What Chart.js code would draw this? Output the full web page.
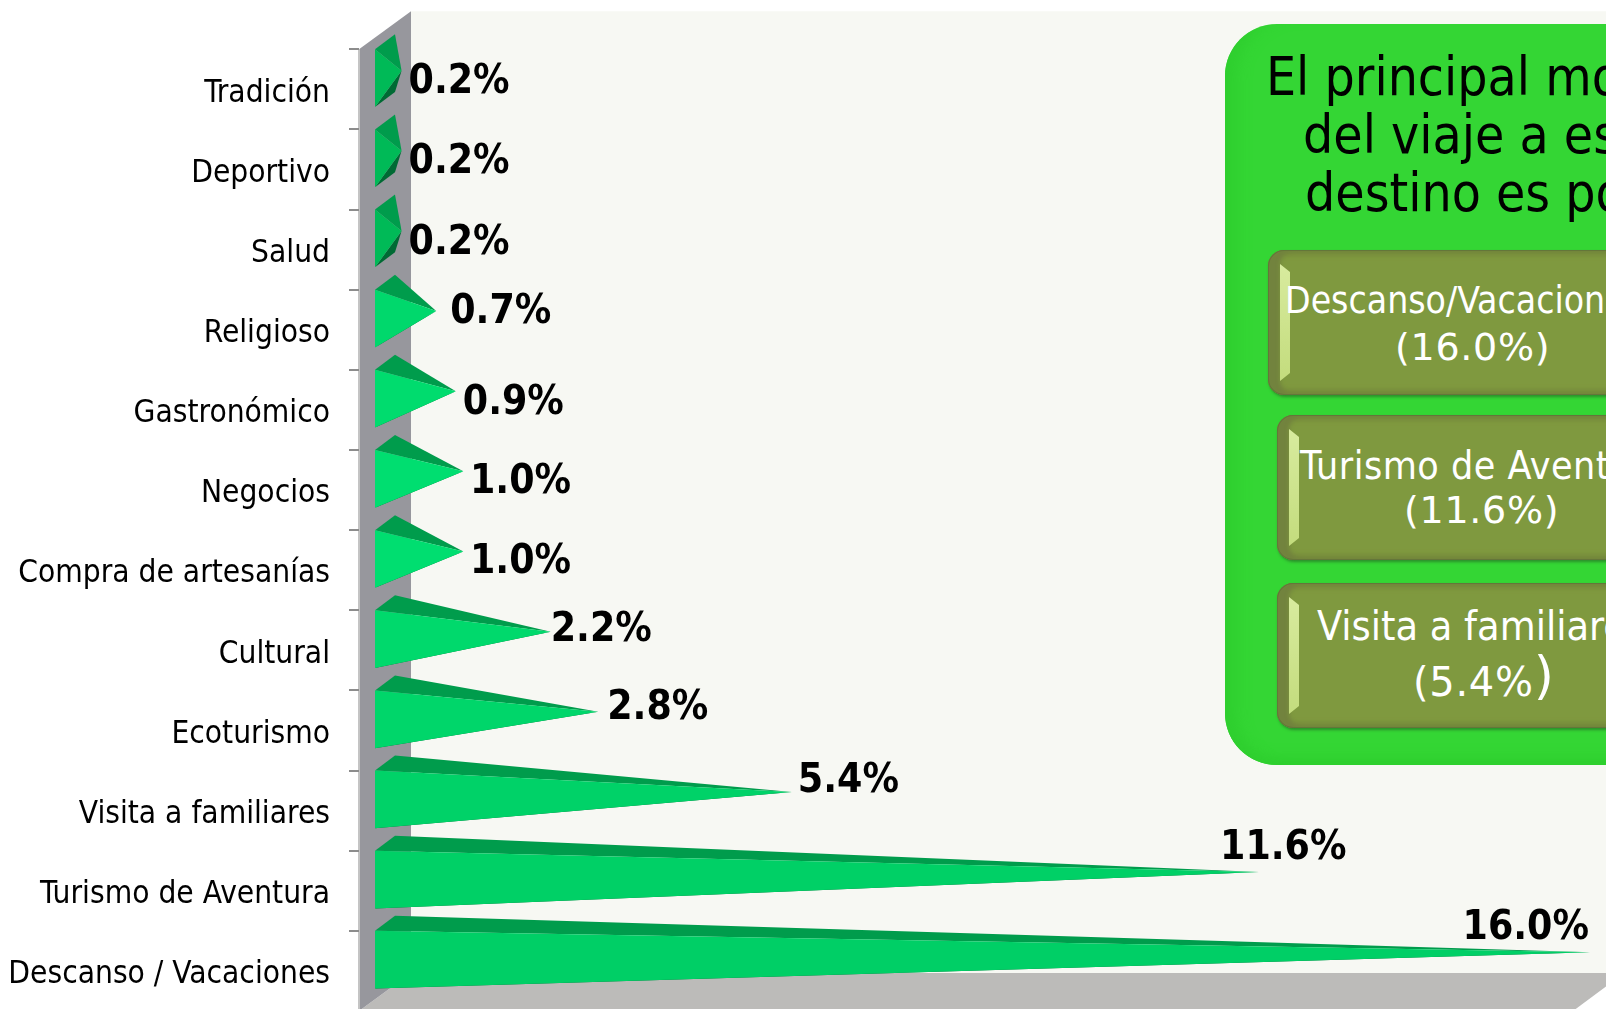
<!DOCTYPE html>
<html>
<head>
<meta charset="utf-8">
<script src="https://cdn.jsdelivr.net/npm/chart.js@4"></script>
<style>
  html, body { margin: 0; background: #fff; overflow: hidden; }
  #page { position: relative; width: 1606px; height: 1009px; overflow: hidden; }
  canvas { position: absolute; left: 0; top: 0; }
  #panel { position: absolute; left: 1225px; top: 24px; width: 500px; height: 741px; border-radius: 52px; background: #34d634;
    box-shadow: inset 22px 0 14px -10px #2fcf2f, inset 0 -16px 12px -8px #2fcf2f; font-family: "DejaVu Sans Condensed", "DejaVu Sans", sans-serif; }
  .line { position: absolute; white-space: nowrap; line-height: 1; }
  .title { font-size: 53px; color: #000; }
  .btn { position: absolute; width: 500px; height: 145px; border-radius: 16px; background: #7f993f; box-shadow: inset 0 0 0 1px #64763a, inset 13px 0 4px -1px #72833e, inset 0 8px 5px -3px #74873c, inset 0 -8px 5px -3px #74873c, 1px 2px 3px #2b8f2b; }
  .btn i { position: absolute; left: 12px; top: 14px; bottom: 14px; width: 10px; background: linear-gradient(#d8eb9e, #c3dc7d); clip-path: polygon(0 0, 100% 8px, 100% calc(100% - 8px), 0 100%); }
  .btn .line { color: #fff; }
  .btn .pct { font-family: "DejaVu Sans", sans-serif; letter-spacing: 0.7px; }
</style>
</head>
<body>
<div id="page">
  <canvas id="turismoChart" width="1606" height="1012"></canvas>
  <div id="panel">
    <span class="line title" style="left:41px;top:26px">El principal motivo</span>
    <span class="line title" style="left:78px;top:84px">del viaje a este</span>
    <span class="line title" style="left:80px;top:142px">destino es por</span>
    <div class="btn" style="left:43px;top:226px"><i></i>
      <span class="line" style="left:17px;top:32px;font-size:37px">Descanso/Vacaciones</span>
      <span class="line pct" style="left:127px;top:78px;font-size:38px">(16.0%)</span>
    </div>
    <div class="btn" style="left:52px;top:391px"><i></i>
      <span class="line" style="left:23px;top:31px;font-size:39px;letter-spacing:.5px">Turismo de Aventura</span>
      <span class="line pct" style="left:127px;top:76px;font-size:38px">(11.6%)</span>
    </div>
    <div class="btn" style="left:52px;top:559px"><i></i>
      <span class="line" style="left:40px;top:23px;font-size:41px">Visita a familiares</span>
      <span class="line pct" style="left:136px;top:69px;font-size:40px">(5.4%<span style="font-size:52px;position:relative;top:-3px">)</span></span>
    </div>
  </div>
</div>
<script>
const categories = ['Tradición', 'Deportivo', 'Salud', 'Religioso', 'Gastronómico', 'Negocios',
  'Compra de artesanías', 'Cultural', 'Ecoturismo', 'Visita a familiares', 'Turismo de Aventura', 'Descanso / Vacaciones'];
const values = [0.22, 0.22, 0.22, 0.68, 0.94, 1.04, 1.04, 2.2, 2.83, 5.4, 11.6, 16.0];

// colours of each pyramid's front face
const frontColors = ['#00ba57', '#00ba57', '#00ba57', '#00d86c', '#00dc6e', '#00de70',
  '#00de70', '#00d96c', '#00d66a', '#00d268', '#00d066', '#00cf66'];

// the value labels were moved by hand in the original, offsets from the tip
const labelDx = [7, 7, 7, 14, 7, 6.6, 6.6, 0, 9, 6, -39, -128];
const labelDy = [12, 12, 13, 1, 12, 11, 11, -1, -3, -10, -24, -24];

const wallDx = 52, wallDy = 38;
const barDx = 20, barDy = 15;

function poly(ctx, pts, color) {
  ctx.fillStyle = color;
  ctx.beginPath();
  pts.forEach((p, i) => i ? ctx.lineTo(p[0], p[1]) : ctx.moveTo(p[0], p[1]));
  ctx.closePath();
  ctx.fill();
}

const walls = {
  id: 'walls',
  beforeDraw(chart) {
    const { ctx, chartArea: a } = chart;
    const bx = a.left + wallDx, by = a.top - wallDy, fy = a.bottom - wallDy;
    poly(ctx, [[bx, by], [a.right, by], [a.right, fy], [bx, fy]], '#f7f8f3');
    poly(ctx, [[bx, fy], [a.right + 18, fy], [a.right - 33, a.bottom], [a.left, a.bottom]], '#bcbbb9');
    poly(ctx, [[a.left, a.top], [bx, by], [bx, fy], [a.left, a.bottom]], '#97979d');
    ctx.strokeStyle = '#c4c4c4';
    ctx.lineWidth = 2;
    ctx.beginPath();
    ctx.moveTo(a.left, a.top);
    ctx.lineTo(a.left, a.bottom);
    ctx.stroke();
  }
};

const pyramids = {
  id: 'pyramids',
  beforeDatasetsDraw(chart) {
    const ctx = chart.ctx;
    const meta = chart.getDatasetMeta(0);
    meta.data.forEach((bar, i) => {
      const h = bar.height;
      const band = h / 0.72;
      const top = bar.y - band / 2;
      const bottom = top + h;
      const fx = bar.base - barDx / 2, bx = bar.base + barDx / 2;
      const tip = [bar.x, top + h / 2 - barDy / 2];
      poly(ctx, [[fx, bottom], [bx, bottom - barDy], tip], '#006a34');
      poly(ctx, [[fx, top], [bx, top - barDy], tip], '#009c4c');
      poly(ctx, [[fx, top], [fx, bottom], tip], frontColors[i]);

      ctx.fillStyle = '#000';
      ctx.font = 'bold 40.5px "DejaVu Sans Condensed", "DejaVu Sans"';
      ctx.textAlign = 'left';
      ctx.textBaseline = 'middle';
      ctx.fillText(values[i].toFixed(1) + '%', tip[0] + labelDx[i], tip[1] + labelDy[i]);
    });
    return false;
  }
};

new Chart(document.getElementById('turismoChart'), {
  type: 'bar',
  data: {
    labels: categories,
    datasets: [{
      data: values,
      backgroundColor: frontColors,
      categoryPercentage: 1,
      barPercentage: 0.72
    }]
  },
  options: {
    indexAxis: 'y',
    responsive: false,
    animation: false,
    layout: { padding: { top: 49.3, bottom: 1 } },
    plugins: { legend: { display: false }, tooltip: { enabled: false } },
    scales: {
      x: { display: false, min: -0.345, max: 16.205 },
      y: {
        afterFit(scale) {
          scale.width = 359;
          scale.paddingTop = 0;
          scale.paddingBottom = 0;
        },
        border: { display: false },
        grid: { drawOnChartArea: false, tickLength: 10, color: '#8c8c8c', lineWidth: 2 },
        ticks: {
          autoSkip: false,
          padding: 19,
          labelOffset: 4,
          color: '#000',
          font: { family: '"DejaVu Sans Condensed", "DejaVu Sans"', size: 31.4 }
        }
      }
    }
  },
  plugins: [walls, pyramids]
});
</script>
</body>
</html>
